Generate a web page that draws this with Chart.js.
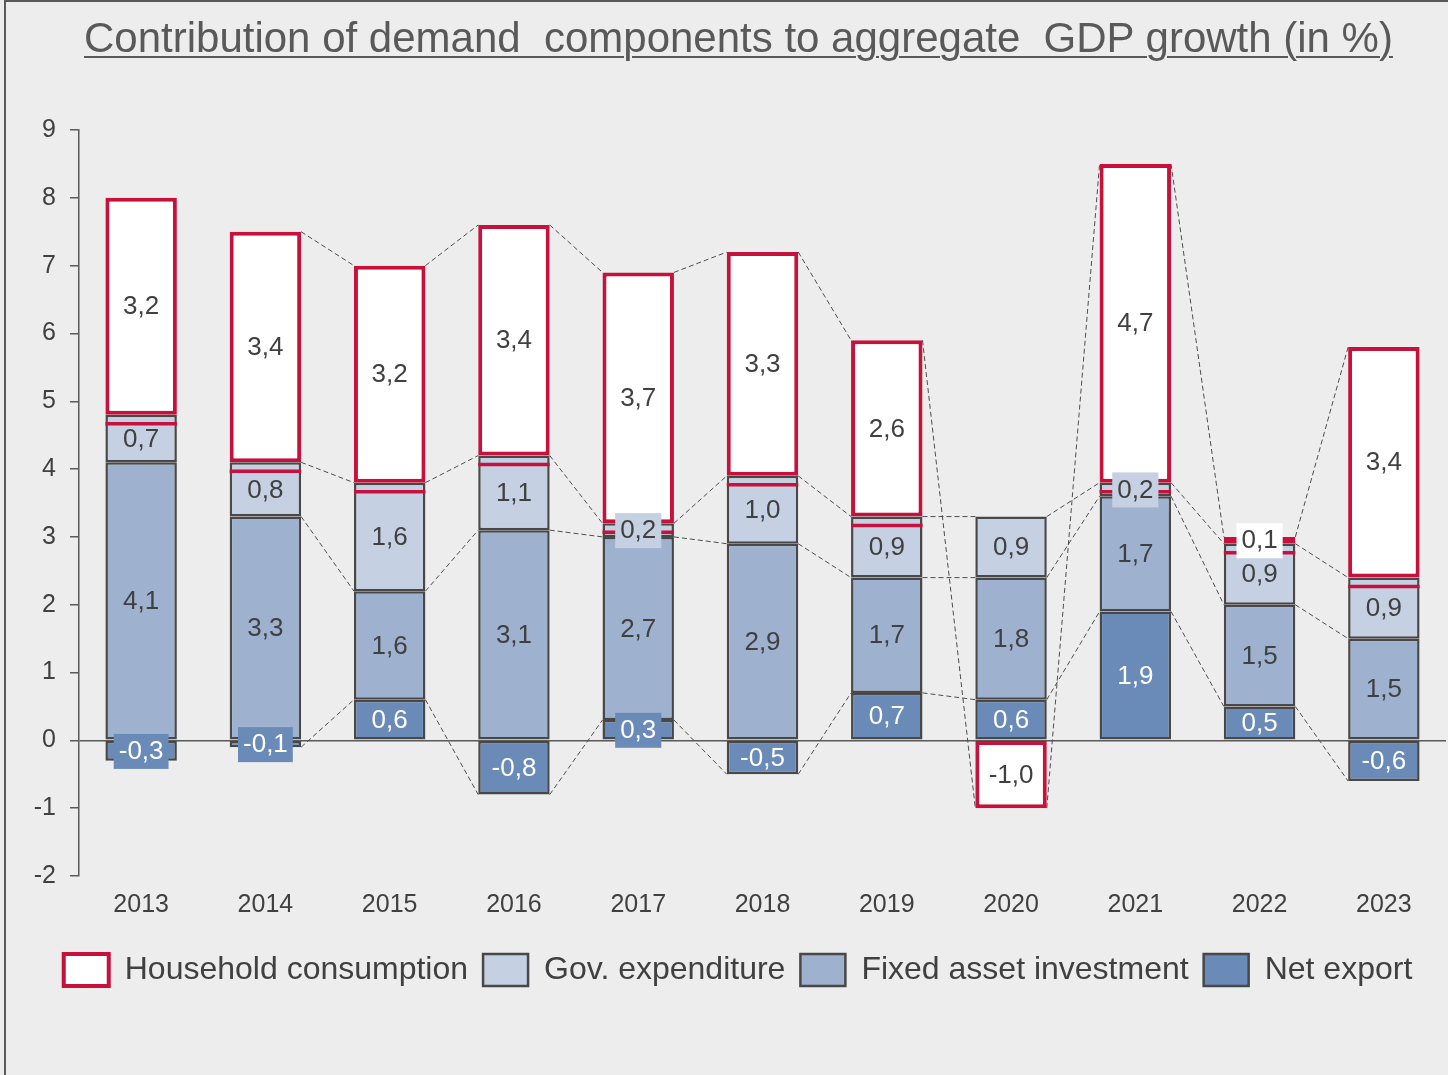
<!DOCTYPE html>
<html>
<head>
<meta charset="utf-8">
<script src="https://cdn.jsdelivr.net/npm/chart.js@4/dist/chart.umd.min.js"></script>
<style>
  html, body { margin: 0; padding: 0; background: #ededed; }
  #frame { position: absolute; left: 4px; top: 0; width: 1448px; height: 1075px;
           border-left: 2px solid #595959; border-top: 2px solid #595959; box-sizing: border-box; }
  #title { position: absolute; left: 84px; top: 14px; white-space: pre; line-height: 48px;
           font-family: "Liberation Sans", Arial, sans-serif; font-size: 42px; color: #595959;
           text-decoration: underline; text-decoration-thickness: 2px; text-underline-offset: 4px; }
  #wrap { position: absolute; left: 0; top: 0; width: 1448px; height: 1075px; }
</style>
</head>
<body>
<div id="frame"></div>
<div id="wrap"><canvas id="gdpChart"></canvas></div>
<div id="title">Contribution of demand  components to aggregate  GDP growth (in %)</div>
<script>
// Data
var years = ['2013', '2014', '2015', '2016', '2017', '2018', '2019', '2020', '2021', '2022', '2023'];
var household = [3.2, 3.4, 3.2, 3.4, 3.7, 3.3, 2.6, -1.0, 4.7, 0.1, 3.4];
var govExpenditure = [0.7, 0.8, 1.6, 1.1, 0.2, 1.0, 0.9, 0.9, 0.2, 0.9, 0.9];
var fixedInvestment = [4.1, 3.3, 1.6, 3.1, 2.7, 2.9, 1.7, 1.8, 1.7, 1.5, 1.5];
var netExport = [-0.3, -0.1, 0.6, -0.8, 0.3, -0.5, 0.7, 0.6, 1.9, 0.5, -0.6];

var CRIMSON = '#c8103c';
var EDGE = '#484848';
var TEXT = '#404040';
var FONT = '"Liberation Sans", Arial, sans-serif';

// Dashed series lines between neighbouring bars (not between the first two)
var seriesLines = {
    id: 'seriesLines',
    beforeDatasetsDraw: function(chart) {
        var ctx = chart.ctx;
        ctx.save();
        ctx.strokeStyle = '#4d4d4d';
        ctx.lineWidth = 1;
        ctx.setLineDash([5, 3]);
        chart.data.datasets.forEach(function(ds, di) {
            var bars = chart.getDatasetMeta(di).data;
            for (var i = 1; i < bars.length - 1; i++) {
                var a = bars[i], b = bars[i + 1];
                ctx.beginPath();
                ctx.moveTo(a.x + a.width / 2, a.y);
                ctx.lineTo(b.x - b.width / 2, b.y);
                ctx.stroke();
            }
        });
        ctx.restore();
    }
};

// Second red stripe under household bars + value labels
var barLabels = {
    id: 'barLabels',
    afterDatasetsDraw: function(chart) {
        var ctx = chart.ctx;
        ctx.save();
        var hhIndex = chart.data.datasets.length - 1;
        chart.getDatasetMeta(hhIndex).data.forEach(function(bar, i) {
            if (household[i] > 0) {
                ctx.strokeStyle = CRIMSON;
                ctx.lineWidth = 3.5;
                ctx.beginPath();
                ctx.moveTo(bar.x - bar.width / 2, bar.base + 9);
                ctx.lineTo(bar.x + bar.width / 2, bar.base + 9);
                ctx.stroke();
            }
        });

        ctx.font = '26px ' + FONT;
        ctx.textAlign = 'center';
        ctx.textBaseline = 'middle';
        chart.data.datasets.forEach(function(ds, di) {
            chart.getDatasetMeta(di).data.forEach(function(bar, i) {
                var v = ds.data[i];
                var txt = v.toFixed(1).replace('.', ',');
                var cy = (bar.y + bar.base) / 2;
                if (Math.abs(v) <= 0.3) {
                    var w = ctx.measureText(txt).width + 10;
                    ctx.fillStyle = ds.labelBox;
                    ctx.fillRect(bar.x - w / 2, cy - 17, w, 35);
                }
                ctx.fillStyle = ds.labelColor;
                ctx.fillText(txt, bar.x, cy + 1);
            });
        });
        ctx.restore();
    }
};

var ctx = document.getElementById('gdpChart');
new Chart(ctx, {
    type: 'bar',
    data: {
        labels: years,
        datasets: [{
            label: 'Net export',
            data: netExport,
            backgroundColor: '#6a8bb8',
            borderColor: EDGE,
            borderWidth: 2.5,
            labelColor: '#ffffff',
            labelBox: '#6a8bb8'
        }, {
            label: 'Fixed asset investment',
            data: fixedInvestment,
            backgroundColor: '#9eb1cf',
            borderColor: EDGE,
            borderWidth: 2.5,
            labelColor: TEXT,
            labelBox: '#9eb1cf'
        }, {
            label: 'Gov. expenditure',
            data: govExpenditure,
            backgroundColor: '#c5d0e2',
            borderColor: EDGE,
            borderWidth: 2.5,
            labelColor: TEXT,
            labelBox: '#c5d0e2'
        }, {
            label: 'Household consumption',
            data: household,
            backgroundColor: '#ffffff',
            borderColor: CRIMSON,
            borderWidth: 4,
            labelColor: TEXT,
            labelBox: '#ffffff'
        }]
    },
    options: {
        responsive: true,
        maintainAspectRatio: false,
        animation: false,
        datasets: {
            bar: {
                borderSkipped: false,
                categoryPercentage: 1,
                barPercentage: 0.575
            }
        },
        layout: {
            padding: { top: 130, left: 30, right: 2, bottom: 79 }
        },
        plugins: {
            legend: {
                position: 'bottom',
                reverse: true,
                labels: {
                    boxWidth: 45,
                    boxHeight: 32,
                    padding: 15,
                    color: TEXT,
                    font: { family: FONT, size: 32 }
                }
            },
            title: { display: false },
            tooltip: { enabled: false }
        },
        scales: {
            x: {
                stacked: true,
                grid: { display: false, drawTicks: false },
                border: { display: false },
                ticks: {
                    color: TEXT,
                    padding: 14,
                    font: { family: FONT, size: 25 }
                },
                afterFit: function(scale) { scale.height += 5; }
            },
            y: {
                stacked: true,
                min: -2,
                max: 9,
                ticks: {
                    stepSize: 1,
                    color: TEXT,
                    padding: 14,
                    font: { family: FONT, size: 25 }
                },
                grid: {
                    color: function(c) {
                        return c.tick && c.tick.value === 0 ? '#595959' : 'rgba(0,0,0,0)';
                    },
                    lineWidth: 1.5,
                    tickColor: '#595959',
                    tickLength: 9
                },
                border: { color: '#595959', width: 1.5 },
                afterFit: function(scale) { scale.width = 49; }
            }
        }
    },
    plugins: [seriesLines, barLabels]
});
</script>
</body>
</html>
